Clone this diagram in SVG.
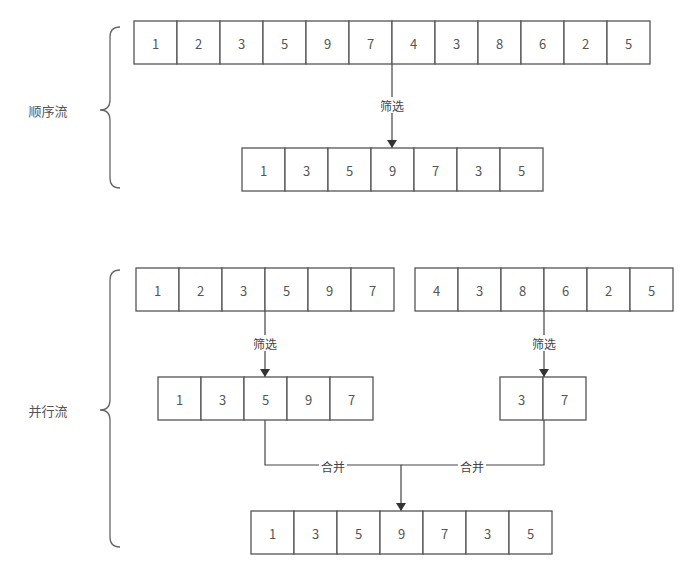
<svg xmlns="http://www.w3.org/2000/svg" width="697" height="577" viewBox="0 0 697 577">
<style>
.c{fill:#fff;stroke:#555;stroke-width:1.3}
.t{font-family:"Noto Sans CJK SC","Liberation Sans",sans-serif;font-size:13px;fill:#555;text-anchor:middle;dominant-baseline:central}
.l{font-family:"Noto Sans CJK SC","Liberation Sans",sans-serif;font-size:12px;fill:#444;text-anchor:middle;dominant-baseline:central}
.w{fill:#fff}
.e{fill:none;stroke:#444;stroke-width:1.2}
.b{fill:none;stroke:#666;stroke-width:1.3}
</style>
<defs>
<marker id="ah" markerWidth="8" markerHeight="10" refX="8" refY="5" orient="auto" markerUnits="userSpaceOnUse" viewBox="0 0 8 10">
<path d="M0,0 L8,5 L0,10 z" fill="#333"/>
</marker>
</defs>
<g id="brace-seq">
<path class="b" d="M120,27 Q110,27 110,37 L110,100 Q110,110 100,110 Q110,110 110,120 L110,178 Q110,188 120,188"/>
<text class="t" x="48" y="110">顺序流</text>
</g>
<g id="brace-par">
<path class="b" d="M120,270 Q110,270 110,280 L110,400 Q110,410 100,410 Q110,410 110,420 L110,537 Q110,547 120,547"/>
<text class="t" x="48" y="410">并行流</text>
</g>
<g id="connectors">
<line class="e" x1="392" y1="64" x2="392" y2="148" marker-end="url(#ah)"/>
<rect class="w" x="378" y="97" width="28" height="16"/>
<text class="l" x="392" y="105">筛选</text>
<line class="e" x1="265" y1="311" x2="265" y2="377" marker-end="url(#ah)"/>
<rect class="w" x="251" y="335" width="28" height="16"/>
<text class="l" x="265" y="343">筛选</text>
<line class="e" x1="544" y1="311" x2="544" y2="377" marker-end="url(#ah)"/>
<rect class="w" x="530" y="335" width="28" height="16"/>
<text class="l" x="544" y="343">筛选</text>
<path class="e" d="M265,420 L265,465 L401,465 L401,511" marker-end="url(#ah)"/>
<path class="e" d="M544,420 L544,465 L401,465"/>
<rect class="w" x="319" y="459" width="28" height="14"/>
<text class="l" x="333" y="466">合并</text>
<rect class="w" x="458" y="459" width="28" height="14"/>
<text class="l" x="472" y="466">合并</text>
</g>
<g id="row-seq-src">
<rect class="c" x="134" y="21" width="43" height="43"/><text class="t" x="155.5" y="43">1</text>
<rect class="c" x="177" y="21" width="43" height="43"/><text class="t" x="198.5" y="43">2</text>
<rect class="c" x="220" y="21" width="43" height="43"/><text class="t" x="241.5" y="43">3</text>
<rect class="c" x="263" y="21" width="43" height="43"/><text class="t" x="284.5" y="43">5</text>
<rect class="c" x="306" y="21" width="43" height="43"/><text class="t" x="327.5" y="43">9</text>
<rect class="c" x="349" y="21" width="43" height="43"/><text class="t" x="370.5" y="43">7</text>
<rect class="c" x="392" y="21" width="43" height="43"/><text class="t" x="413.5" y="43">4</text>
<rect class="c" x="435" y="21" width="43" height="43"/><text class="t" x="456.5" y="43">3</text>
<rect class="c" x="478" y="21" width="43" height="43"/><text class="t" x="499.5" y="43">8</text>
<rect class="c" x="521" y="21" width="43" height="43"/><text class="t" x="542.5" y="43">6</text>
<rect class="c" x="564" y="21" width="43" height="43"/><text class="t" x="585.5" y="43">2</text>
<rect class="c" x="607" y="21" width="43" height="43"/><text class="t" x="628.5" y="43">5</text>
</g>
<g id="row-seq-out">
<rect class="c" x="242" y="148" width="43" height="43"/><text class="t" x="263.5" y="170">1</text>
<rect class="c" x="285" y="148" width="43" height="43"/><text class="t" x="306.5" y="170">3</text>
<rect class="c" x="328" y="148" width="43" height="43"/><text class="t" x="349.5" y="170">5</text>
<rect class="c" x="371" y="148" width="43" height="43"/><text class="t" x="392.5" y="170">9</text>
<rect class="c" x="414" y="148" width="43" height="43"/><text class="t" x="435.5" y="170">7</text>
<rect class="c" x="457" y="148" width="43" height="43"/><text class="t" x="478.5" y="170">3</text>
<rect class="c" x="500" y="148" width="43" height="43"/><text class="t" x="521.5" y="170">5</text>
</g>
<g id="row-par-a">
<rect class="c" x="136" y="268" width="43" height="43"/><text class="t" x="157.5" y="290">1</text>
<rect class="c" x="179" y="268" width="43" height="43"/><text class="t" x="200.5" y="290">2</text>
<rect class="c" x="222" y="268" width="43" height="43"/><text class="t" x="243.5" y="290">3</text>
<rect class="c" x="265" y="268" width="43" height="43"/><text class="t" x="286.5" y="290">5</text>
<rect class="c" x="308" y="268" width="43" height="43"/><text class="t" x="329.5" y="290">9</text>
<rect class="c" x="351" y="268" width="43" height="43"/><text class="t" x="372.5" y="290">7</text>
</g>
<g id="row-par-b">
<rect class="c" x="415" y="268" width="43" height="43"/><text class="t" x="436.5" y="290">4</text>
<rect class="c" x="458" y="268" width="43" height="43"/><text class="t" x="479.5" y="290">3</text>
<rect class="c" x="501" y="268" width="43" height="43"/><text class="t" x="522.5" y="290">8</text>
<rect class="c" x="544" y="268" width="43" height="43"/><text class="t" x="565.5" y="290">6</text>
<rect class="c" x="587" y="268" width="43" height="43"/><text class="t" x="608.5" y="290">2</text>
<rect class="c" x="630" y="268" width="43" height="43"/><text class="t" x="651.5" y="290">5</text>
</g>
<g id="row-par-a-out">
<rect class="c" x="158" y="377" width="43" height="43"/><text class="t" x="179.5" y="399">1</text>
<rect class="c" x="201" y="377" width="43" height="43"/><text class="t" x="222.5" y="399">3</text>
<rect class="c" x="244" y="377" width="43" height="43"/><text class="t" x="265.5" y="399">5</text>
<rect class="c" x="287" y="377" width="43" height="43"/><text class="t" x="308.5" y="399">9</text>
<rect class="c" x="330" y="377" width="43" height="43"/><text class="t" x="351.5" y="399">7</text>
</g>
<g id="row-par-b-out">
<rect class="c" x="500" y="377" width="43" height="43"/><text class="t" x="521.5" y="399">3</text>
<rect class="c" x="543" y="377" width="43" height="43"/><text class="t" x="564.5" y="399">7</text>
</g>
<g id="row-merged">
<rect class="c" x="251" y="511" width="43" height="43"/><text class="t" x="272.5" y="533">1</text>
<rect class="c" x="294" y="511" width="43" height="43"/><text class="t" x="315.5" y="533">3</text>
<rect class="c" x="337" y="511" width="43" height="43"/><text class="t" x="358.5" y="533">5</text>
<rect class="c" x="380" y="511" width="43" height="43"/><text class="t" x="401.5" y="533">9</text>
<rect class="c" x="423" y="511" width="43" height="43"/><text class="t" x="444.5" y="533">7</text>
<rect class="c" x="466" y="511" width="43" height="43"/><text class="t" x="487.5" y="533">3</text>
<rect class="c" x="509" y="511" width="43" height="43"/><text class="t" x="530.5" y="533">5</text>
</g>
</svg>
